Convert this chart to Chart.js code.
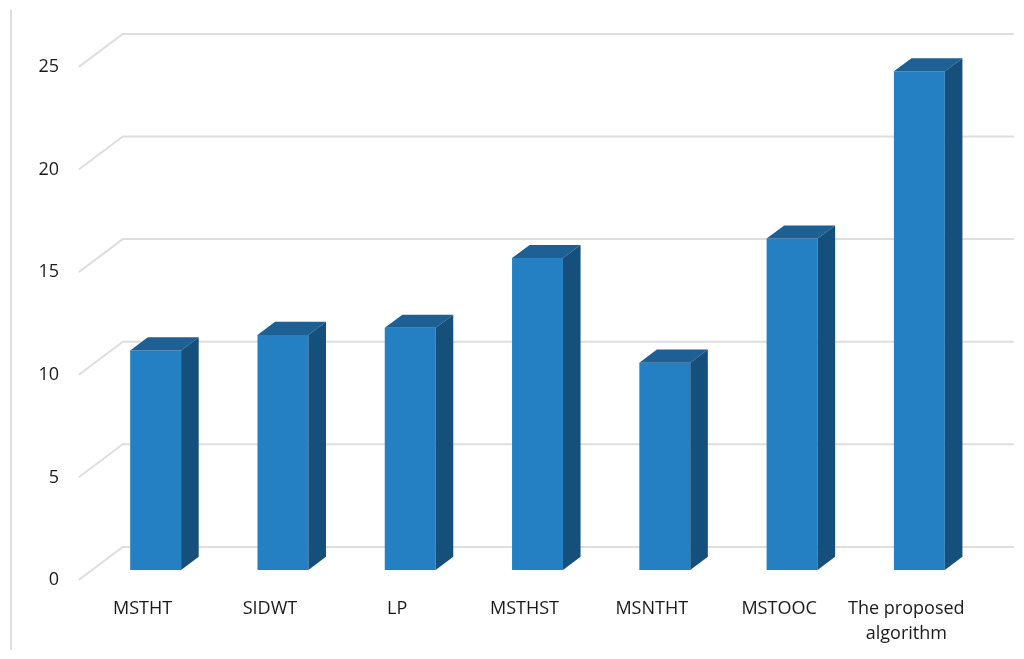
<!DOCTYPE html>
<html lang="en">
<head>
    <meta charset="UTF-8">
    <title>3D column chart</title>
    <script src="https://cdn.jsdelivr.net/npm/chart.js"></script>
    <style>
        body {
            margin: 0;
            padding: 0;
            background-color: #ffffff;
        }
        .chart-container {
            width: 1024px;
            height: 659px;
        }
    </style>
</head>
<body>
    <div class="chart-container">
        <canvas id="barChart"></canvas>
    </div>

    <script>
        const categories = ['MSTHT', 'SIDWT', 'LP', 'MSTHST', 'MSNTHT', 'MSTOOC', ['The proposed', 'algorithm']];
        const values = [10.7, 11.45, 11.8, 15.2, 10.1, 16.15, 24.3];
        const yTicks = [0, 5, 10, 15, 20, 25];

        // full depth of the floor, front edge -> back wall
        const depth = { x: 44, y: -33 };
        const barFront = 0.3;   // bars start 30% into the depth
        const barDepth = 0.4;

        const faceColor = '#2580c3';
        const topColor = '#1e5f94';
        const sideColor = '#15507d';
        const gridColor = '#dedede';

        const threeD = {
            id: 'threeD',
            beforeDraw(chart) {
                const ctx = chart.ctx;
                ctx.save();
                ctx.strokeStyle = gridColor;
                ctx.lineWidth = 2;
                ctx.beginPath();
                ctx.moveTo(11, 10);
                ctx.lineTo(11, 650);
                ctx.stroke();
                ctx.restore();
            },
            beforeDatasetsDraw(chart) {
                const ctx = chart.ctx;
                const area = chart.chartArea;
                const y = chart.scales.y;
                const fx = -depth.x * barFront, fy = -depth.y * barFront;
                const bx = depth.x * (1 - barFront), by = depth.y * (1 - barFront);
                ctx.save();
                ctx.strokeStyle = gridColor;
                ctx.lineWidth = 2;
                yTicks.forEach(t => {
                    const py = y.getPixelForValue(t);
                    ctx.beginPath();
                    ctx.moveTo(area.left + fx, py + fy);
                    ctx.lineTo(area.left + bx, py + by);
                    ctx.lineTo(area.right + bx, py + by);
                    ctx.stroke();
                });
                ctx.restore();
            },
            afterDatasetsDraw(chart) {
                const ctx = chart.ctx;
                const dx = depth.x * barDepth, dy = depth.y * barDepth;
                ctx.save();
                chart.getDatasetMeta(0).data.forEach(bar => {
                    const left = bar.x - bar.width / 2;
                    const right = bar.x + bar.width / 2;
                    const top = bar.y;
                    const bottom = bar.base;
                    // top face
                    ctx.fillStyle = topColor;
                    ctx.beginPath();
                    ctx.moveTo(left, top);
                    ctx.lineTo(left + dx, top + dy);
                    ctx.lineTo(right + dx, top + dy);
                    ctx.lineTo(right, top);
                    ctx.closePath();
                    ctx.fill();
                    // side face
                    ctx.fillStyle = sideColor;
                    ctx.beginPath();
                    ctx.moveTo(right, top);
                    ctx.lineTo(right + dx, top + dy);
                    ctx.lineTo(right + dx, bottom + dy);
                    ctx.lineTo(right, bottom);
                    ctx.closePath();
                    ctx.fill();
                });
                ctx.restore();
            }
        };

        const ctx = document.getElementById('barChart').getContext('2d');
        new Chart(ctx, {
            type: 'bar',
            data: {
                labels: categories,
                datasets: [{
                    data: values,
                    backgroundColor: faceColor,
                    borderWidth: 0,
                    barPercentage: 0.4,
                    categoryPercentage: 1.0
                }]
            },
            options: {
                responsive: true,
                maintainAspectRatio: false,
                animation: false,
                layout: { padding: { left: 0, right: 41, top: 57, bottom: 0 } },
                plugins: {
                    legend: { display: false },
                    tooltip: { enabled: false }
                },
                scales: {
                    x: {
                        grid: { display: false, drawTicks: false },
                        border: { display: false },
                        ticks: {
                            color: '#1a1a1a',
                            font: { family: 'Open Sans', size: 18, lineHeight: 1.4 },
                            padding: 26,
                            labelOffset: -13,
                            maxRotation: 0,
                            autoSkip: false
                        },
                        afterFit(scale) { scale.height = 89; }
                    },
                    y: {
                        min: 0,
                        max: 25,
                        grid: { display: false, drawTicks: false },
                        border: { display: false },
                        ticks: {
                            stepSize: 5,
                            color: '#1a1a1a',
                            font: { family: 'Open Sans', size: 18 },
                            padding: 33,
                            labelOffset: 10
                        },
                        afterFit(scale) { scale.width = 92; }
                    }
                }
            },
            plugins: [threeD]
        });
    </script>
</body>
</html>
